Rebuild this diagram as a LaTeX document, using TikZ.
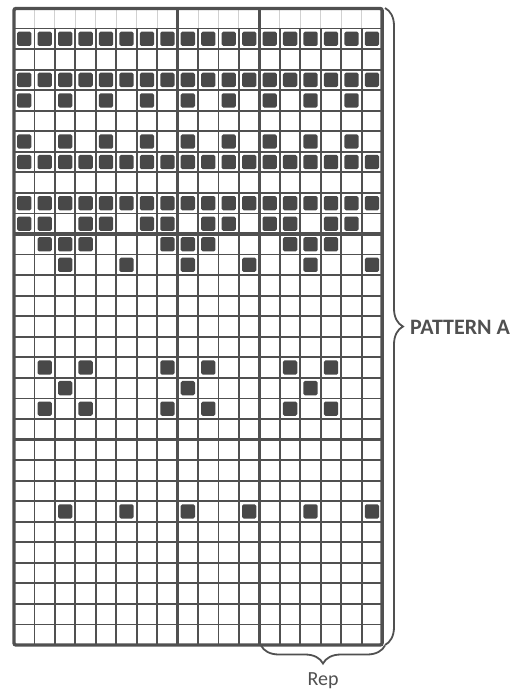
\documentclass[tikz,border=0pt]{standalone}
\usepackage{fontspec}
\setmainfont{Carlito}
\usetikzlibrary{decorations.pathreplacing}
\definecolor{tinta}{RGB}{80,80,80}
\definecolor{relleno}{RGB}{72,72,72}

\begin{document}
\begin{tikzpicture}[x=1pt, y=-1pt,
    linea/.style={draw=tinta, line width=1.8pt},
    borde/.style={draw=tinta, line width=3.4pt},
    marca/.style={draw=black!18, line width=1pt},
    celda/.style={fill=relleno, rounded corners=1.6pt},
    llave/.style={draw=tinta, line width=1.8pt, decorate,
                  decoration={brace, amplitude=18pt}},
    etiqueta/.style={text=tinta, inner sep=0pt}]
  \useasboundingbox (0,0) rectangle (520,691);
  % medidas de la cuadricula
  \def\xo{14} \def\yo{28.5} \def\an{20.45} \def\al{20.55}
  % fila de cabecera
  \foreach \c in {1,...,17}
    \draw[marca] ({\xo+\an*\c},8.5) -- ({\xo+\an*\c},\yo);
  % lineas finas
  \foreach \c in {1,...,7,9,10,11,13,14,15,16,17}
    \draw[linea] ({\xo+\an*\c},\yo) -- ({\xo+\an*\c},{\yo+\al*30});
  \foreach \r in {0,...,9,11,12,...,19,21,22,...,29}
    \draw[linea] (\xo,{\yo+\al*\r}) -- ({\xo+\an*18},{\yo+\al*\r});
  % puntos del patron
  \foreach \fila/\cols in {1/{0,...,17}, 3/{0,...,17}, 4/{0,2,...,16},
      6/{0,2,...,16}, 7/{0,...,17}, 9/{0,...,17},
      10/{0,1,3,4,6,7,9,10,12,13,15,16}, 11/{1,2,3,7,8,9,13,14,15},
      12/{2,5,8,11,14,17}, 17/{1,3,7,9,13,15}, 18/{2,8,14},
      19/{1,3,7,9,13,15}, 24/{2,5,8,11,14,17}}
    \foreach \col in \cols
      \fill[celda] ({\xo+\an*\col+3.1},{\yo+\al*(\fila-1)+3.1}) rectangle +(14.3,14.3);
  % lineas gruesas
  \foreach \c in {8,12}
    \draw[borde] ({\xo+\an*\c},8.5) -- ({\xo+\an*\c},{\yo+\al*30});
  \foreach \r in {10,20}
    \draw[borde] (\xo,{\yo+\al*\r}) -- ({\xo+\an*18},{\yo+\al*\r});
  \draw[borde, rounded corners=2pt] (\xo,8.5) rectangle ({\xo+\an*18},{\yo+\al*30});
  % llaves
  \coordinate (patronIni) at (385,8);
  \coordinate (patronFin) at (385,645);
  \coordinate (repIni) at (385,645.5);
  \coordinate (repFin) at (261,645.5);
  \draw[llave] (patronIni) -- (patronFin);
  \draw[llave] (repIni) -- (repFin);
  \node[etiqueta, anchor=west, font=\bfseries\fontsize{22}{26}\selectfont] (patron) at (410,327) {PATTERN A};
  \node[etiqueta, font=\fontsize{20}{24}\selectfont] (rep) at (323,681) {Rep};
\end{tikzpicture}
\end{document}
